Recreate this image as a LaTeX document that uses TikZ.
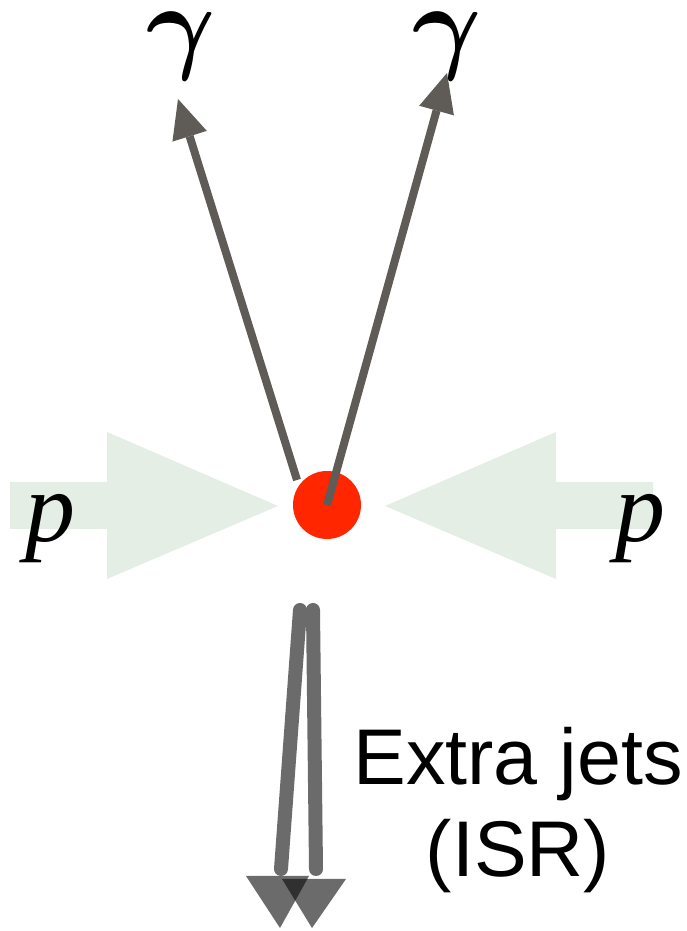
\documentclass[tikz,border=0pt]{standalone}
\usepackage{bm}
\usepackage{fontspec}
\setmainfont{Liberation Serif}
\newfontfamily\jetfont{Liberation Sans}
\usetikzlibrary{arrows.meta,calc,positioning}
\definecolor{beamgreen}{RGB}{228,238,228}
\definecolor{vertexred}{RGB}{255,38,0}
\definecolor{photongray}{RGB}{95,91,87}
\definecolor{jetgray}{RGB}{107,107,107}
\definecolor{jetdark}{RGB}{48,48,48}

\begin{document}
\begin{tikzpicture}[x=1pt,y=1pt,line cap=round,line join=round,
  photon/.style={photongray,line width=8pt,line cap=butt,
   -{Triangle[length=39pt,width=36pt,line width=0pt]}},
  beam/.style={fill=beamgreen},
  jetline/.style={jetgray,line width=14pt},
  lbl/.style={font=\fontsize{100}{100}\selectfont\itshape,inner sep=0pt,anchor=base},
  glbl/.style={scale=10.6,inner sep=0pt,anchor=base}]
 \useasboundingbox (0,0) rectangle (687,931);
 % Wiązki protonów z obu stron.
 \fill[beam] (10,402)--(107,402)--(107,352)--(278,425)
  --(107,499)--(107,449)--(10,449)--cycle;
 \fill[beam] (653,402)--(556,402)--(556,352)--(385,425)
  --(556,499)--(556,449)--(653,449)--cycle;
 \node[lbl] (pl) at (50,389) {p};
 \node[lbl] (pr) at (640,389) {p};
 % Wierzchołek zderzenia.
 \node[circle,fill=vertexred,minimum size=68pt,inner sep=0pt] (vtx) at (327,426) {};
 % Dwa fotony.
 \node[glbl] (gl) at (181,871) {$\bm\gamma$};
 \node[glbl] (gr) at (447,871) {$\bm\gamma$};
 \coordinate (gl0) at (297,451);
 \coordinate (gl1) at (178,832);
 \coordinate (gr1) at (447,858);
 \draw[photon] (gl0)--(gl1);
 \draw[photon] (vtx.center)--(gr1);
 % Dodatkowe dżety (ISR).
 \coordinate (jl0) at (300,321);
 \coordinate (jl1) at (281,62);
 \coordinate (jr0) at (313,321);
 \coordinate (jr1) at (316,62);
 \draw[jetline] (jl0)--(jl1);
 \draw[jetline] (jr0)--(jr1);
 \fill[jetgray] (246,55)--(309,55)--(280,3)--cycle;
 \fill[jetgray] (282,52)--(346,52)--(312,3)--cycle;
 \begin{scope}
  \clip (246,55)--(309,55)--(280,3)--cycle;
  \fill[jetdark] (282,52)--(346,52)--(312,3)--cycle;
 \end{scope}
 \node[font=\jetfont\fontsize{79}{92}\selectfont,align=center,inner sep=0pt,
  anchor=base] (isr) at (518,54) {Extra jets\\(ISR)};
\end{tikzpicture}
\end{document}
